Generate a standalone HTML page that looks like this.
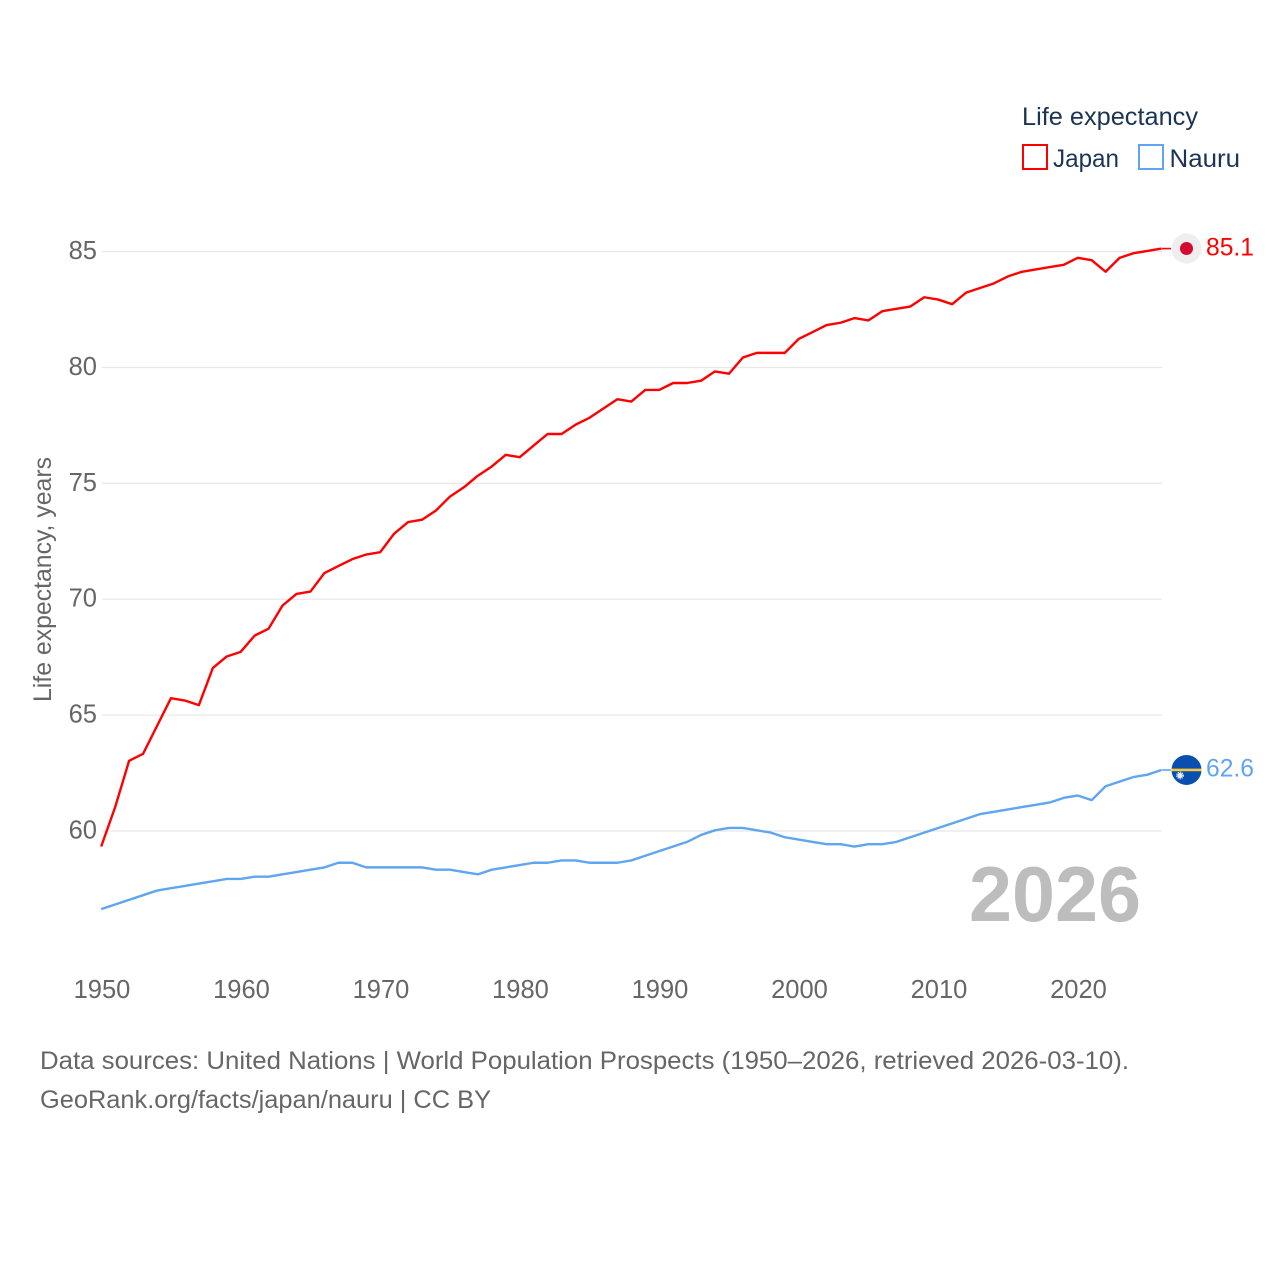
<!DOCTYPE html>
<html>
<head>
<meta charset="utf-8">
<style>
html,body{margin:0;padding:0;background:#fff;}
svg{display:block;font-family:"Liberation Sans",sans-serif;}
</style>
</head>
<body>
<svg id="chart" width="1280" height="1280" viewBox="0 0 1280 1280" xmlns="http://www.w3.org/2000/svg">
  <rect width="1280" height="1280" fill="#fff"/>
  <g id="grid"></g>
  <g id="yticks"></g>
  <g id="xticks"></g>
  <text transform="translate(51,702) rotate(-90)" font-size="25" fill="#666" textLength="245" lengthAdjust="spacingAndGlyphs">Life expectancy, years</text>
  <text x="969" y="921" font-size="78" font-weight="700" fill="#bdbdbd" textLength="172" lengthAdjust="spacingAndGlyphs">2026</text>
  <path id="line-japan" transform="translate(-0.3,-0.7)" fill="none" stroke="#ff0000" stroke-width="2.4" stroke-linejoin="round"/>
  <path id="line-nauru" transform="translate(-0.3,-0.7)" fill="none" stroke="#60a5f0" stroke-width="2.4" stroke-linejoin="round"/>
  <line id="conn-japan" stroke="#ff0000" stroke-width="1.6"/>
  <line id="conn-nauru" stroke="#60a5f0" stroke-width="1.6"/>
  <g id="flag-japan">
    <circle r="15" fill="#eeeeee"/>
    <circle r="6.5" fill="#d30a2f"/>
  </g>
  <g id="flag-nauru">
    <circle r="15" fill="#0a4fb0"/>
    <rect x="-15" y="-1.3" width="30" height="2.6" fill="#f5c93a"/>
    <circle cx="-6.5" cy="5.5" r="2.6" fill="#e8eef8"/>
    <circle cx="-6.5" cy="5.5" r="3.3" fill="none" stroke="#e8eef8" stroke-width="1.2" stroke-dasharray="1.3 0.9"/>
  </g>
  <text id="label-japan" x="1206" y="255" font-size="25" fill="#ff0000" textLength="48" lengthAdjust="spacingAndGlyphs"></text>
  <text id="label-nauru" x="1206" y="777" font-size="25" fill="#60a5f0" textLength="48" lengthAdjust="spacingAndGlyphs"></text>
  <g>
    <text x="1022" y="125" font-size="25" fill="#1b3454" textLength="176" lengthAdjust="spacingAndGlyphs">Life expectancy</text>
    <rect x="1023" y="145" width="24" height="24" fill="none" stroke="#ff0000" stroke-width="2"/>
    <text x="1053" y="167" font-size="25" fill="#1b3454" textLength="66" lengthAdjust="spacingAndGlyphs">Japan</text>
    <rect x="1139" y="145" width="24" height="24" fill="none" stroke="#60a5f0" stroke-width="2"/>
    <text x="1169.5" y="167" font-size="25" fill="#1b3454" textLength="70.5" lengthAdjust="spacingAndGlyphs">Nauru</text>
  </g>
  <text x="40" y="1069" font-size="25" fill="#666" textLength="1089" lengthAdjust="spacingAndGlyphs">Data sources: United Nations | World Population Prospects (1950–2026, retrieved 2026-03-10).</text>
  <text x="40" y="1108" font-size="25" fill="#666" textLength="451" lengthAdjust="spacingAndGlyphs">GeoRank.org/facts/japan/nauru | CC BY</text>
</svg>
<script>
const startYear = 1950;
const yTickValues = [60, 65, 70, 75, 80, 85];
const xTickValues = [1950, 1960, 1970, 1980, 1990, 2000, 2010, 2020];
const japanValues = [59.3,61.0,63.0,63.3,64.5,65.7,65.6,65.4,67.0,67.5,67.7,68.4,68.7,69.7,70.2,70.3,71.1,71.4,71.7,71.9,72.0,72.8,73.3,73.4,73.8,74.4,74.8,75.3,75.7,76.2,76.1,76.6,77.1,77.1,77.5,77.8,78.2,78.6,78.5,79.0,79.0,79.3,79.3,79.4,79.8,79.7,80.4,80.6,80.6,80.6,81.2,81.5,81.8,81.9,82.1,82.0,82.4,82.5,82.6,83.0,82.9,82.7,83.2,83.4,83.6,83.9,84.1,84.2,84.3,84.4,84.7,84.6,84.1,84.7,84.9,85.0,85.1];
const nauruValues = [56.6,56.8,57.0,57.2,57.4,57.5,57.6,57.7,57.8,57.9,57.9,58.0,58.0,58.1,58.2,58.3,58.4,58.6,58.6,58.4,58.4,58.4,58.4,58.4,58.3,58.3,58.2,58.1,58.3,58.4,58.5,58.6,58.6,58.7,58.7,58.6,58.6,58.6,58.7,58.9,59.1,59.3,59.5,59.8,60.0,60.1,60.1,60.0,59.9,59.7,59.6,59.5,59.4,59.4,59.3,59.4,59.4,59.5,59.7,59.9,60.1,60.3,60.5,60.7,60.8,60.9,61.0,61.1,61.2,61.4,61.5,61.3,61.9,62.1,62.3,62.4,62.6];

const SVGNS = 'http://www.w3.org/2000/svg';
function xScale(year){ return 101.5 + (year - 1950) * (1078 - 101.5) / 70; }
function yScale(v){ return 831 - (v - 60) * (831 - 251.6) / 25; }
function linePath(values){
  return values.map(function(v, i){
    return (i ? 'L' : 'M') + xScale(startYear + i).toFixed(2) + ' ' + yScale(v).toFixed(2);
  }).join(' ');
}

const grid = document.getElementById('grid');
const yticks = document.getElementById('yticks');
const xticks = document.getElementById('xticks');

yTickValues.forEach(function(v){
  const l = document.createElementNS(SVGNS, 'line');
  
  
  l.setAttribute('x1', 102);
  l.setAttribute('x2', 1162);
  l.setAttribute('y1', yScale(v));
  l.setAttribute('y2', yScale(v));
  l.setAttribute('stroke', '#e8e8e8');
  l.setAttribute('stroke-width', '1.2');
  grid.appendChild(l);
  const t = document.createElementNS(SVGNS, 'text');
  
  
  t.setAttribute('x', 97);
  t.setAttribute('y', yScale(v) + 7.5);
  t.setAttribute('text-anchor', 'end');
  t.setAttribute('font-size', '25.5');
  t.setAttribute('fill', '#666');
  t.textContent = v;
  yticks.appendChild(t);
});

xTickValues.forEach(function(y){
  const t = document.createElementNS(SVGNS, 'text');
  
  
  t.setAttribute('x', xScale(y) + 0.5);
  t.setAttribute('y', 998);
  t.setAttribute('text-anchor', 'middle');
  t.setAttribute('font-size', '25.5');
  t.setAttribute('fill', '#666');
  t.textContent = y;
  xticks.appendChild(t);
});

document.getElementById('line-japan').setAttribute('d', linePath(japanValues));
document.getElementById('line-nauru').setAttribute('d', linePath(nauruValues));

function placeEnd(name, values){
  const last = values[values.length - 1];
  const ly = yScale(last) - 0.7;
  const c = document.getElementById('conn-' + name);
  c.setAttribute('x1', xScale(startYear + values.length - 1));
  c.setAttribute('x2', 1171);
  c.setAttribute('y1', ly);
  c.setAttribute('y2', ly);
  document.getElementById('flag-' + name).setAttribute('transform', 'translate(1186.5,' + (ly - 0.1) + ')');
  const lab = document.getElementById('label-' + name);
  lab.setAttribute('y', ly + 6.7);
  lab.textContent = last.toFixed(1);
}
placeEnd('japan', japanValues);
placeEnd('nauru', nauruValues);
</script>
</body>
</html>
